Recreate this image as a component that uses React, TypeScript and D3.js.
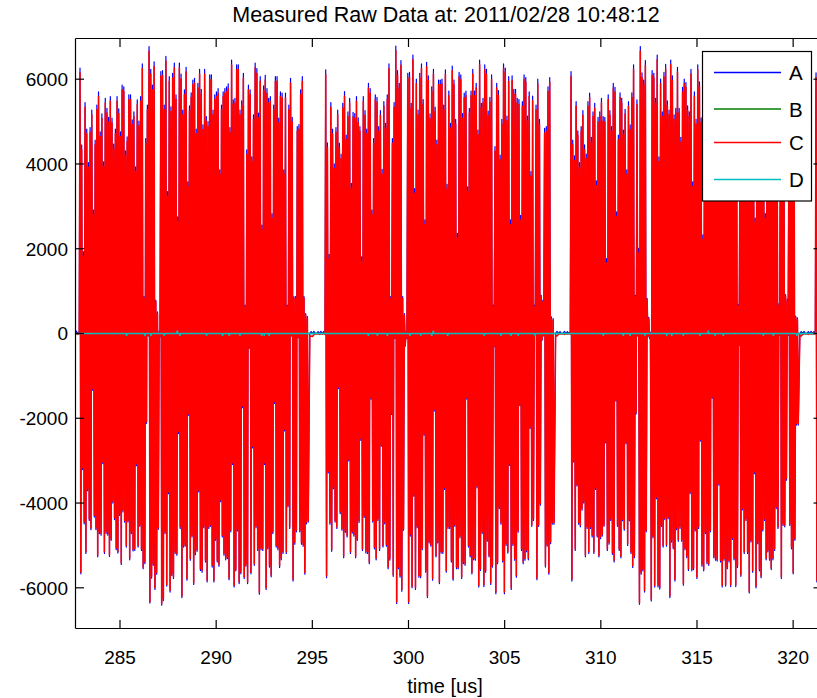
import React from "react";
import * as d3 from "d3";

const W = 817;
const H = 698;
const titleText = "Measured Raw Data at: 2011/02/28 10:48:12";
const xLabelText = "time [us]";
const xTicks = [285, 290, 295, 300, 305, 310, 315, 320];
const yTicks = [-6000, -4000, -2000, 0, 2000, 4000, 6000];
const xDomain: [number, number] = [282.686, 321.5];
const yDomain: [number, number] = [-6960, 6960];
const seriesNames = ["A", "B", "C", "D"];
const seriesColors = ["#0000ff", "#008000", "#ff0000", "#00bfbf"];
const seriesWidths = [1.2, 1.5, 1.55, 1.5];

// burst timing (time of first positive peak, end of last cycle) in us
const burstStart = [282.92, 295.695, 308.452, 321.19];
const burstEnd = [294.83, 307.61, 320.31, 321.72];

// ---- series A: per-cycle positive / negative peaks ----
const aPos1 = [6260,4450,1930,5450,4820,4030,4860,5270,2910,4560,5390,5700,4760,5180,4050,5550,5310,5100,5590,5080,4470,4820,5590,5300,4760,5860,5820,4310,4640,5630,5630,5040,5230,3930,5510,5010,5590,6360,870,4600,5390,6770,6230,5860,6410,790,510,60,6180,6200,5390,6540,3350,6060,5350,6140,6380,5630,2750,6380,6120,5270,5750,6280,3580,5370,5680,5980,6020,4820,5900,6230,5760,4920,6230,5120,5000,6100,6100,5270,5630,5700,5780,3860,5390,5700,5780,5820,5890,4860,6450,5510,5550,6340,6340,5270,5490,6140,670,4330,5860,5750,4170,5160,6380,6250,5200,6060,2560,5840,6090,5780,5550,5590,2830,5390,6060,6060,5080,5700,5670,3860,5670,670,5390,6020,5100,870,870,4880,4930,5750,6060,870,470,400];
const aNeg1 = [-5670,-3210,-4490,-5190,-3710,-4410,-4630,-1340,-4330,-4630,-5270,-4720,-4760,-3070,-5190,-4720,-4760,-5260,-4880,-4000,-4390,-5100,-5180,-4290,-5450,-4210,-4450,-5040,-4450,-5340,-4720,-5130,-5120,-3120,-5040,-4550,-5120,-5550,-5430,-2120,-60,-6360,-5770,-5470,-6040,-5680,-4620,-80,-6410,-6300,-4720,-5960,-3780,-6100,-5710,-5780,-5190,-5230,-2360,-4600,-6230,-5040,-5020,-5820,-1930,-5350,-4800,-5920,-5220,-5140,-3740,-5590,-5630,-4580,-5390,-5860,-4600,-4550,-5510,-5860,-4880,-5390,-5490,-3970,-4800,-5230,-5340,-5310,-5810,-4680,-3090,-5980,-5600,-4660,-5900,-5670,-1750,-5780,-5490,-5900,-350,-5670,-2700,-5470,-4580,-5120,-6150,-5100,-5120,-3090,-6040,-5080,-5510,-5740,-4720,-1650,-5040,-5100,-5520,-5340,-5190,-2300,-5190,-4090,-4600,-60,-5840,-4970,-4680,-100,-4680,-4970,-5020,-5680,-4490,-4450];
const aPos2 = [6220,4500,1870,5450,4820,4000,4860,5270,4490,4230,5430,5710,4680,5230,5550,3540,5220,5190,5590,5090,4880,1810,5590,5260,4820,5900,5780,2910,4600,5630,5570,4880,5260,3870,5470,4960,5630,6360,870,4600,5450,6780,6200,5900,6440,870,470,40,6140,6160,5430,6570,3420,6000,5270,6140,6360,5520,2680,6400,6080,5180,5820,6230,5340,4560,5980,5980,6000,5390,6220,3520,5720,4960,6310,5980,5050,2360,6160,6100,5190,5670,5720,3460,5310,5720,6230,5720,5900,4800,6450,5430,5550,6340,6230,5250,5570,6100,670,4410,5900,5730,4210,5050,6360,6260,5130,6060,2680,6080,5760,5760,5550,5520,2790,5470,6100,6040,5130,5700,3820,5600,670,5390,6000,5050,900,790,4840,4880,5820,6040,390,350];
const aNeg2 = [-5760,-3290,-4500,-5140,-3660,-4450,-4600,-1300,-4250,-4640,-5290,-4690,-4800,-3010,-5190,-4710,-4780,-5290,-4880,-4460,-2520,-5120,-4340,-5180,-5190,-5430,-1550,-4450,-5080,-5340,-4410,-5120,-2660,-5040,-4490,-5020,-5550,-5350,-1910,-5730,-120,-6370,-5550,-5750,-6080,-4640,-300,-120,-6370,-4780,-6000,-3840,-6040,-4580,-5750,-5760,-5100,-2400,-5630,-6230,-4940,-5020,-5820,-1830,-5270,-4940,-5900,-5180,-5190,-3680,-5630,-4600,-4600,-5390,-5820,-4550,-5550,-5550,-4820,-5780,-5430,-5470,-1550,-5040,-5270,-5670,-5340,-5350,-3640,-5980,-5590,-4720,-5970,-5630,-4900,-5270,-5920,-5510,-310,-6140,-5430,-4130,-4500,-5390,-6140,-5000,-5180,-3110,-6040,-5000,-5350,-5750,-4690,-1700,-5120,-5430,-5350,-5150,-5340,-2240,-4550,-4410,-40,-5810,-4550,-4050,-160,-60,-5510,-5020,-5680,-4960,-4500,-4500];
const aPos3 = [6180,4560,4190,5470,4780,4030,4880,5260,4450,4230,5470,5670,4630,5230,5430,3600,5100,5230,5550,5120,5100,1770,5630,5260,4880,5900,5810,2870,4680,5680,5550,4800,5290,3860,5470,4920,5680,6340,900,5510,2010,6770,6150,5980,6440,830,380,30,6200,6140,5550,6570,4170,6000,5230,6160,6350,5490,5270,6450,6080,5160,5310,6280,5310,4630,5810,6000,5920,5370,5230,6230,3580,5700,5050,6340,5940,5090,2330,6120,6150,5230,5620,5760,3500,5270,5760,6190,5680,5940,4850,6410,5470,5510,6300,6270,5210,5610,6060,690,4450,5860,5770,4170,5090,6320,6220,5170,6020,2720,6040,5800,5720,5590,5480,2830,5430,6140,6000,5170,5660,3860,5560,700,5350,6040,5010,920,810,4800,4920,5780,6080,410,370];
const aNeg3 = [-5840,-3030,-5120,-3600,-4500,-4560,-4170,-4000,-5270,-4600,-5190,-4600,-4800,-5190,-3680,-4800,-5270,-4840,-4780,-4550,-2580,-5120,-4970,-4410,-5210,-5390,-1590,-4550,-5120,-5290,-4420,-4640,-2600,-5000,-4420,-5190,-5520,-5290,-1900,-60,-6390,-5680,-5600,-6100,-4680,-80,-120,-6310,-4820,-5980,-3900,-5980,-6030,-4550,-5040,-4390,-5020,-4370,-6230,-4920,-5080,-5840,-4630,-4900,-4600,-4900,-5940,-5100,-5290,-5590,-3780,-5600,-5570,-4660,-5780,-4600,-2540,-5490,-5600,-4720,-5430,-5470,-4680,-1530,-5290,-5350,-5370,-3580,-5390,-5980,-5350,-5960,-5550,-5390,-5970,-4860,-5340,-5970,-5520,-280,-5730,-4160,-5190,-4410,-5190,-6120,-4920,-5630,-3310,-6000,-4960,-5600,-5760,-4660,-4410,-5340,-5150,-5350,-5570,-5340,-5120,-4130,-4600,-40,-5780,-4530,-4560,-3460,-40,-4530,-5080,-5670,-4880,-2160,-2160];
const aPos4 = [6150,4500,1950,5400,4800,4000];
const aNeg4 = [-5860,-3250,-4500,-5150,-3700,-4450];

// ---- series C: per-cycle positive / negative peaks ----
const cPos1 = [6150,4340,1820,5340,4710,3920,4750,5160,2800,4450,5280,5590,4650,5070,3940,5440,5200,4990,5480,4970,4360,4710,5480,5190,4650,5750,5710,4200,4530,5520,5520,4930,5120,3820,5400,4900,5480,6250,830,4490,5280,6660,6120,5750,6300,750,470,20,6070,6090,5280,6430,3240,5950,5240,6030,6270,5520,2640,6270,6010,5160,5640,6170,3470,5260,5570,5870,5910,4710,5790,6120,5650,4810,6120,5010,4890,5990,5990,5160,5520,5590,5670,3750,5280,5590,5670,5710,5780,4750,6340,5400,5440,6230,6230,5160,5380,6030,630,4220,5750,5640,4060,5050,6270,6140,5090,5950,2450,5730,5980,5670,5440,5480,2720,5280,5950,5950,4970,5590,5560,3750,5560,630,5280,5910,4990,830,830,4770,4820,5640,5950,830,430,360];
const cNeg1 = [-5630,-3170,-4450,-5150,-3670,-4370,-4590,-1300,-4290,-4590,-5230,-4680,-4720,-3030,-5150,-4680,-4720,-5220,-4840,-3960,-4350,-5060,-5140,-4250,-5410,-4170,-4410,-5000,-4410,-5300,-4680,-5090,-5080,-3080,-5000,-4510,-5080,-5510,-5390,-2080,-40,-6320,-5730,-5430,-6000,-5640,-4580,-60,-6370,-6260,-4680,-5920,-3740,-6060,-5670,-5740,-5150,-5190,-2320,-4560,-6190,-5000,-4980,-5780,-1890,-5310,-4760,-5880,-5180,-5100,-3700,-5550,-5590,-4540,-5350,-5820,-4560,-4510,-5470,-5820,-4840,-5350,-5450,-3930,-4760,-5190,-5300,-5270,-5770,-4640,-3050,-5940,-5560,-4620,-5860,-5630,-1710,-5740,-5450,-5860,-330,-5630,-2660,-5430,-4540,-5080,-6110,-5060,-5080,-3050,-6000,-5040,-5470,-5700,-4680,-1610,-5000,-5060,-5480,-5300,-5150,-2260,-5150,-4050,-4560,-40,-5800,-4930,-4640,-80,-4640,-4930,-4980,-5640,-4450,-4410];
const cPos2 = [6110,4390,1760,5340,4710,3890,4750,5160,4380,4120,5320,5600,4570,5120,5440,3430,5110,5080,5480,4980,4770,1700,5480,5150,4710,5790,5670,2800,4490,5520,5460,4770,5150,3760,5360,4850,5520,6250,830,4490,5340,6670,6090,5790,6330,830,430,0,6030,6050,5320,6460,3310,5890,5160,6030,6250,5410,2570,6290,5970,5070,5710,6120,5230,4450,5870,5870,5890,5280,6110,3410,5610,4850,6200,5870,4940,2250,6050,5990,5080,5560,5610,3350,5200,5610,6120,5610,5790,4690,6340,5320,5440,6230,6120,5140,5460,5990,630,4300,5790,5620,4100,4940,6250,6150,5020,5950,2570,5970,5650,5650,5440,5410,2680,5360,5990,5930,5020,5590,3710,5490,630,5280,5890,4940,860,750,4730,4770,5710,5930,350,310];
const cNeg2 = [-5720,-3250,-4460,-5100,-3620,-4410,-4560,-1260,-4210,-4600,-5250,-4650,-4760,-2970,-5150,-4670,-4740,-5250,-4840,-4420,-2480,-5080,-4300,-5140,-5150,-5390,-1510,-4410,-5040,-5300,-4370,-5080,-2620,-5000,-4450,-4980,-5510,-5310,-1870,-5690,-100,-6330,-5510,-5710,-6040,-4600,-280,-100,-6330,-4740,-5960,-3800,-6000,-4540,-5710,-5720,-5060,-2360,-5590,-6190,-4900,-4980,-5780,-1790,-5230,-4900,-5860,-5140,-5150,-3640,-5590,-4560,-4560,-5350,-5780,-4510,-5510,-5510,-4780,-5740,-5390,-5430,-1510,-5000,-5230,-5630,-5300,-5310,-3600,-5940,-5550,-4680,-5930,-5590,-4860,-5230,-5880,-5470,-290,-6100,-5390,-4090,-4460,-5350,-6100,-4960,-5140,-3070,-6000,-4960,-5310,-5710,-4650,-1660,-5080,-5390,-5310,-5110,-5300,-2200,-4510,-4370,-20,-5770,-4510,-4010,-140,-40,-5470,-4980,-5640,-4920,-4460,-4460];
const cPos3 = [6070,4450,4080,5360,4670,3920,4770,5150,4340,4120,5360,5560,4520,5120,5320,3490,4990,5120,5440,5010,4990,1660,5520,5150,4770,5790,5700,2760,4570,5570,5440,4690,5180,3750,5360,4810,5570,6230,860,5400,1900,6660,6040,5870,6330,790,340,0,6090,6030,5440,6460,4060,5890,5120,6050,6240,5380,5160,6340,5970,5050,5200,6170,5200,4520,5700,5890,5810,5260,5120,6120,3470,5590,4940,6230,5830,4980,2220,6010,6040,5120,5510,5650,3390,5160,5650,6080,5570,5830,4740,6300,5360,5400,6190,6160,5100,5500,5950,650,4340,5750,5660,4060,4980,6210,6110,5060,5910,2610,5930,5690,5610,5480,5370,2720,5320,6030,5890,5060,5550,3750,5450,660,5240,5930,4900,880,770,4690,4810,5670,5970,370,330];
const cNeg3 = [-5800,-2990,-5080,-3560,-4460,-4520,-4130,-3960,-5230,-4560,-5150,-4560,-4760,-5150,-3640,-4760,-5230,-4800,-4740,-4510,-2540,-5080,-4930,-4370,-5170,-5350,-1550,-4510,-5080,-5250,-4380,-4600,-2560,-4960,-4380,-5150,-5480,-5250,-1860,-40,-6350,-5640,-5560,-6060,-4640,-60,-100,-6270,-4780,-5940,-3860,-5940,-5990,-4510,-5000,-4350,-4980,-4330,-6190,-4880,-5040,-5800,-4590,-4860,-4560,-4860,-5900,-5060,-5250,-5550,-3740,-5560,-5530,-4620,-5740,-4560,-2500,-5450,-5560,-4680,-5390,-5430,-4640,-1490,-5250,-5310,-5330,-3540,-5350,-5940,-5310,-5920,-5510,-5350,-5930,-4820,-5300,-5930,-5480,-260,-5690,-4120,-5150,-4370,-5150,-6080,-4880,-5590,-3270,-5960,-4920,-5560,-5720,-4620,-4370,-5300,-5110,-5310,-5530,-5300,-5080,-4090,-4560,-20,-5740,-4490,-4520,-3420,-20,-4490,-5040,-5630,-4840,-2120,-2120];
const cPos4 = [6040,4390,1840,5290,4690,3890];
const cNeg4 = [-5820,-3210,-4460,-5110,-3660,-4410];

// ---- small values between bursts (lead-in, gap 1, gap 2, gap 3) ----
const aLead = [60, 0, 50];
const aGap1 = [0, 45, 0, 50, 0, 0, 45, 0, 50, 0, 45, 0];
const aGap2 = [0, 50, 0, 45, 0, 0, 50, 0, 45, 0, 50];
const aGap3 = [0, 45, 0, 50, 0, 0, 45, 0, 50, 0, 45, 0];
const cLead = [0, -20, 0];
const cGap1 = [-70, -60, -70, -30, 0, -10, 0, -20, 0, -10, 0, -20];
const cGap2 = [-40, -60, -20, 0, -10, 0, -20, 0, -10, 0, -10];
const cGap3 = [-50, -60, -20, 0, -10, 0, -20, 0, -10, 0, -10, 0];

// ---- series B and D: near-zero traces with small blips ----
const bBlipTimes = [284.1, 289.0, 293.6, 297.2, 303.1, 309.4, 314.8, 319.0];
const bBlipValues = [-40, -40, 30, -40, -30, 40, -40, -30];
const dBlipTimes = [285.35, 286.30, 286.61, 287.30, 287.98, 288.12, 289.51, 290.34, 290.68, 291.24, 292.37, 292.50, 292.75, 297.91, 298.38, 298.90, 300.08, 300.64, 301.21, 301.29, 302.04, 303.94, 304.81, 305.33, 305.71, 306.58, 310.13, 311.17, 311.52, 312.30, 313.43, 313.69, 314.29, 315.16, 315.59, 315.94, 316.37, 318.45, 318.97, 320.19];
const dBlipValues = [-45, -45, -45, -40, 60, -45, -40, -45, -45, -40, -45, -40, -45, -45, -40, -45, -45, -40, -45, 60, -45, -40, -45, -45, -40, -45, -40, -45, -45, -40, -45, -45, -40, -45, 60, -40, -45, -40, -45, -40];

type Pt = [number, number];

function spread(pts: Pt[], t0: number, t1: number, vals: number[]) {
  const step = (t1 - t0) / vals.length;
  vals.forEach((v, i) => pts.push([t0 + (i + 0.5) * step, v]));
}

function burstSeries(pos: number[][], neg: number[][], lead: number[], gaps: number[][]): Pt[] {
  const pts: Pt[] = [[xDomain[0], 0]];
  spread(pts, xDomain[0], burstStart[0], lead);
  pos.forEach((p, b) => {
    const n = p.length;
    const dt = (burstEnd[b] - burstStart[b]) / n;
    for (let k = 0; k < n; k++) {
      pts.push([burstStart[b] + k * dt, p[k]]);
      pts.push([burstStart[b] + (k + 0.5) * dt, neg[b][k]]);
    }
    if (b < gaps.length) spread(pts, burstEnd[b], burstStart[b + 1], gaps[b]);
  });
  return pts;
}

function blipSeries(times: number[], values: number[]): Pt[] {
  const pts: Pt[] = [[xDomain[0], 0]];
  times.forEach((t, i) => {
    pts.push([t - 0.035, 0], [t, values[i]], [t + 0.035, 0]);
  });
  pts.push([xDomain[1], 0]);
  return pts;
}

const L = 75.5, R = 822, T = 38.5, B = 628.5;
const FONT = "'Liberation Sans', Arial, Helvetica, sans-serif";

export default function App() {
  const x = d3.scaleLinear().domain(xDomain).range([L, R]);
  const y = d3.scaleLinear().domain(yDomain).range([B, T]);
  const line = d3.line<Pt>().x((d) => x(d[0])).y((d) => y(d[1]));

  const seriesA = burstSeries([aPos1, aPos2, aPos3, aPos4], [aNeg1, aNeg2, aNeg3, aNeg4], aLead, [aGap1, aGap2, aGap3]);
  const seriesC = burstSeries([cPos1, cPos2, cPos3, cPos4], [cNeg1, cNeg2, cNeg3, cNeg4], cLead, [cGap1, cGap2, cGap3]);
  const seriesB = blipSeries(bBlipTimes, bBlipValues);
  const seriesD = blipSeries(dBlipTimes, dBlipValues);
  const all = [seriesA, seriesB, seriesC, seriesD];

  const tickLen = 8.5;
  const legendX = 702.5, legendY = 51.5, legendW = 109, legendH = 149.5;
  const legendRowY = [72.5, 109, 142.5, 179.5];

  return (
    <svg
      width={W}
      height={H}
      viewBox={`0 0 ${W} ${H}`}
      style={{ position: "absolute", left: 0, top: 0, display: "block" }}
      fontFamily={FONT}
    >
      <defs>
        <clipPath id="plotClip">
          <rect x={L} y={T} width={R - L} height={B - T} />
        </clipPath>
      </defs>
      <rect x={0} y={0} width={W} height={H} fill="#ffffff" />
      <rect x={L} y={T} width={R - L} height={B - T} fill="#ffffff" />
      <g clipPath="url(#plotClip)" fill="none" strokeLinejoin="round">
        {all.map((s, i) => (
          <path key={seriesNames[i]} d={line(s) || ""} stroke={seriesColors[i]} strokeWidth={seriesWidths[i]} />
        ))}
      </g>
      {/* axes box */}
      <g stroke="#000" strokeWidth={1.2} fill="none">
        <line x1={L} y1={T} x2={R} y2={T} />
        <line x1={L} y1={B} x2={R} y2={B} />
        <line x1={L} y1={T} x2={L} y2={B} />
        <line x1={R} y1={T} x2={R} y2={B} />
        {xTicks.map((v) => (
          <g key={"xt" + v}>
            <line x1={x(v)} y1={B} x2={x(v)} y2={B - tickLen} />
            <line x1={x(v)} y1={T} x2={x(v)} y2={T + tickLen} />
          </g>
        ))}
        {yTicks.map((v) => (
          <g key={"yt" + v}>
            <line x1={L} y1={y(v)} x2={L + tickLen} y2={y(v)} />
            <line x1={R} y1={y(v)} x2={R - tickLen} y2={y(v)} />
          </g>
        ))}
      </g>
      <g fontSize={19} fill="#000">
        {xTicks.map((v) => (
          <text key={"xl" + v} x={x(v)} y={664} textAnchor="middle">
            {v}
          </text>
        ))}
        {yTicks.map((v) => (
          <text key={"yl" + v} x={68} y={y(v) + 6.8} textAnchor="end">
            {v}
          </text>
        ))}
      </g>
      <text x={446} y={21.5} textAnchor="middle" fontSize={21.5} fill="#000">
        {titleText}
      </text>
      <text x={445} y={693} textAnchor="middle" fontSize={20} fill="#000">
        {xLabelText}
      </text>
      {/* legend */}
      <g>
        <rect x={legendX} y={legendY} width={legendW} height={legendH} fill="#fff" stroke="#000" strokeWidth={1.2} />
        {seriesNames.map((n, i) => (
          <g key={"lg" + n}>
            <line x1={714} x2={781} y1={legendRowY[i]} y2={legendRowY[i]} stroke={seriesColors[i]} strokeWidth={1.5} />
            <text x={789} y={legendRowY[i] + 7.5} fontSize={20.5} fill="#000">
              {n}
            </text>
          </g>
        ))}
      </g>
    </svg>
  );
}
